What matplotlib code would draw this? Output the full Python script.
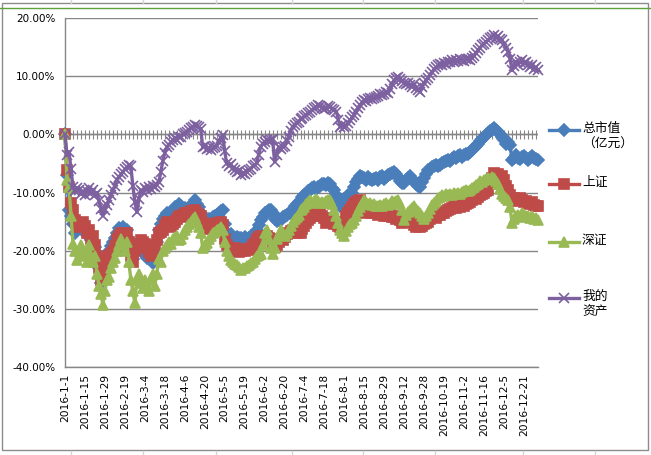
import matplotlib
matplotlib.use("Agg")
import matplotlib.pyplot as plt
from matplotlib.lines import Line2D
from matplotlib.patches import Rectangle
import pandas as pd

# trading days of 2016 (Shanghai / Shenzhen holidays removed, plus days with no record)
holidays = ["2016-02-08", "2016-02-09", "2016-02-10", "2016-02-11", "2016-02-12",
            "2016-04-04", "2016-05-02", "2016-06-09", "2016-06-10",
            "2016-09-15", "2016-09-16",
            "2016-10-03", "2016-10-04", "2016-10-05", "2016-10-06", "2016-10-07"]
skipped = ["2016-03-28", "2016-03-29", "2016-11-22", "2016-11-23", "2016-11-24",
           "2016-12-13", "2016-12-14"]
days = [d for d in pd.bdate_range("2016-01-04", "2016-12-30")
        if d.strftime("%Y-%m-%d") not in holidays + skipped]
dates = ["2016-1-1"] + [f"{d.year}-{d.month}-{d.day}" for d in days]

# values in percent
total_value = [
    0, -7.0, -13.0, -14.0, -15.5, -17.0, -16.0, -15.2, -15.8, -16.5,
    -17.0, -16.8, -17.5, -18.2, -19.0, -19.3, -20.5, -23.0, -25.6, -24.5,
    -22.5, -21.0, -20.0, -19.2, -18.5, -17.8, -17.0, -16.1, -16.5, -16.0,
    -16.8, -16.5, -18.0, -20.5, -21.5, -20.0, -19.5, -18.5, -19.0, -20.0,
    -20.8, -21.2, -20.5, -21.5, -22.1, -20.0, -18.5, -16.5, -15.5, -14.5,
    -14.0, -13.5, -14.2, -13.8, -13.0, -12.5, -12.8, -12.0, -12.4, -13.0,
    -12.6, -13.2, -13.0, -12.4, -11.8, -11.3, -11.9, -12.5, -13.5, -14.5,
    -15.0, -15.0, -14.6, -14.8, -14.2, -14.0, -13.8, -13.5, -13.2, -13.0,
    -15.5, -17.0, -17.5, -17.2, -17.8, -18.0, -17.6, -17.9, -17.8, -18.1,
    -17.7, -18.0, -17.8, -17.5, -17.9, -17.2, -16.5, -15.6, -14.7, -14.2,
    -13.6, -13.3, -13.0, -13.0, -13.6, -14.5, -14.9, -14.7, -14.7, -14.2,
    -14.0, -13.8, -13.6, -13.6, -13.0, -12.4, -12.0, -11.6, -11.3, -10.8,
    -10.4, -10.2, -9.8, -9.5, -9.3, -9.1, -9.4, -9.0, -8.8, -8.6,
    -8.5, -8.7, -8.4, -8.6, -9.2, -9.6, -10.5, -11.5, -12.4, -11.8,
    -11.2, -11.0, -10.4, -10.7, -10.0, -9.0, -8.2, -7.6, -7.2, -7.4,
    -7.5, -7.8, -7.3, -7.6, -7.9, -7.7, -7.5, -7.8, -7.4, -7.2,
    -7.6, -7.3, -7.0, -6.8, -6.7, -6.5, -6.9, -7.4, -8.0, -8.4,
    -8.4, -7.8, -7.5, -7.2, -7.6, -8.0, -8.5, -8.8, -9.0, -8.2,
    -7.5, -6.8, -6.2, -5.9, -5.6, -5.4, -5.2, -5.5, -5.3, -5.0,
    -4.8, -4.6, -4.4, -4.6, -4.2, -3.9, -4.1, -3.8, -3.6, -3.9,
    -3.5, -3.4, -3.3, -3.0, -2.7, -2.3, -2.0, -1.6, -1.2, -0.8,
    -0.5, -0.2, 0.2, 0.5, 0.8, 1.1, 0.8, 0.4, 0.0, -0.4,
    -0.9, -1.6, -1.4, -1.8, -4.4, -4.0, -3.6, -4.1, -4.3, -3.9,
    -3.7, -4.0, -4.4, -4.1, -3.8, -4.0, -4.3, -4.4,
]
shanghai = [
    0, -6.2, -9.0, -11.8, -13.0, -14.7, -15.5, -16.0, -15.3, -15.0,
    -15.8, -17.0, -16.5, -18.0, -17.4, -19.0, -21.0, -23.0, -25.0, -24.0,
    -22.0, -21.5, -21.0, -20.5, -20.0, -19.2, -18.0, -17.5, -17.0, -17.2,
    -17.5, -17.0, -18.5, -21.0, -22.0, -20.0, -19.5, -19.0, -18.2, -18.5,
    -18.8, -19.5, -20.2, -21.0, -20.5, -19.0, -18.2, -17.0, -16.8, -16.5,
    -15.6, -15.0, -15.3, -16.0, -15.5, -15.0, -14.6, -14.0, -14.2, -13.8,
    -13.5, -13.7, -13.5, -13.2, -13.4, -13.0, -13.5, -13.8, -14.0, -15.2,
    -16.0, -16.3, -16.0, -15.8, -15.6, -15.5, -15.2, -15.4, -15.0, -15.6,
    -18.0, -19.0, -19.5, -19.8, -20.0, -19.6, -19.9, -20.2, -20.0, -19.8,
    -20.0, -19.7, -19.8, -19.5, -19.0, -18.6, -18.0, -17.6, -17.5, -17.9,
    -17.8, -17.5, -17.9, -18.0, -18.8, -19.4, -19.0, -18.5, -18.0, -18.2,
    -17.6, -17.2, -17.0, -16.7, -16.5, -16.8, -17.0, -16.6, -17.0, -16.2,
    -15.8, -15.3, -14.8, -14.3, -14.0, -13.6, -13.8, -14.0, -13.7, -14.0,
    -14.4, -15.3, -15.0, -14.8, -15.0, -15.5, -15.2, -15.8, -16.0, -15.4,
    -15.0, -14.0, -13.6, -13.0, -12.5, -12.0, -11.6, -11.4, -11.3, -12.4,
    -13.2, -13.6, -13.4, -13.0, -13.5, -13.3, -13.6, -13.8, -13.4, -13.7,
    -14.0, -13.8, -14.1, -13.9, -14.2, -14.2, -14.5, -14.0, -14.8, -15.3,
    -15.0, -14.6, -14.8, -14.5, -15.0, -15.6, -16.0, -15.7, -16.0, -15.8,
    -15.4, -15.3, -15.0, -14.6, -14.2, -14.0, -14.3, -13.9, -13.8, -13.6,
    -13.6, -13.2, -13.0, -12.8, -12.6, -12.4, -12.6, -12.3, -12.5, -12.2,
    -12.4, -12.0, -11.8, -11.6, -11.3, -11.0, -11.2, -10.8, -10.5, -10.2,
    -10.0, -9.8, -9.6, -8.6, -7.5, -6.7, -7.0, -6.9, -7.3, -7.2,
    -7.9, -8.8, -9.6, -10.4, -11.3, -11.0, -11.5, -11.2, -11.0, -11.3,
    -11.6, -11.5, -11.8, -12.0, -11.7, -12.1, -12.3, -12.4,
]
shenzhen = [
    0, -7.8, -9.0, -14.0, -18.8, -20.0, -21.6, -20.0, -19.0, -21.0,
    -20.5, -22.0, -19.0, -21.0, -22.0, -21.0, -24.0, -26.0, -27.5, -29.3,
    -27.0, -25.0, -24.5, -23.0, -22.0, -21.2, -20.0, -19.0, -18.0, -19.0,
    -20.0, -18.5, -22.0, -25.0, -27.0, -29.0, -25.0, -24.0, -25.5, -26.5,
    -25.0, -26.0, -27.0, -25.0, -24.0, -26.0, -24.0, -21.5, -22.0, -20.0,
    -19.5, -19.0, -18.5, -18.8, -18.0, -17.6, -17.5, -18.2, -18.0, -17.2,
    -16.5, -16.0, -15.5, -15.0, -14.5, -14.2, -15.0, -16.0, -17.0, -19.5,
    -19.0, -18.6, -18.0, -17.5, -17.0, -16.8, -16.5, -16.2, -16.0, -16.5,
    -18.5, -20.0, -21.0, -21.6, -22.0, -22.3, -22.5, -22.8, -23.4, -23.0,
    -23.0, -22.6, -22.5, -22.2, -22.0, -21.5, -21.0, -20.8, -20.5, -19.0,
    -17.0, -16.5, -18.0, -19.5, -20.5, -19.5, -18.0, -17.2, -16.5, -17.0,
    -17.5, -17.0, -16.5, -15.8, -15.0, -14.6, -14.2, -13.8, -13.0, -12.8,
    -12.5, -12.0, -11.6, -11.3, -11.8, -11.5, -11.2, -11.5, -11.8, -11.6,
    -11.8, -11.5, -11.3, -11.3, -12.0, -13.0, -14.0, -15.3, -16.5, -17.0,
    -17.4, -16.6, -16.0, -15.5, -15.2, -14.7, -14.0, -13.2, -12.5, -12.0,
    -11.3, -11.6, -12.0, -11.8, -12.2, -12.0, -12.4, -12.4, -12.1, -12.3,
    -12.0, -11.8, -12.2, -11.9, -11.5, -11.6, -11.4, -11.3, -12.0, -13.0,
    -14.7, -13.8, -13.4, -13.0, -12.6, -12.4, -12.8, -13.2, -13.6, -14.0,
    -14.5, -14.0, -13.6, -12.8, -12.2, -11.8, -11.4, -11.0, -10.8, -10.5,
    -10.6, -10.3, -10.4, -10.2, -10.4, -10.1, -10.3, -10.0, -10.2, -9.9,
    -9.8, -9.6, -9.8, -9.5, -9.3, -9.0, -8.7, -8.5, -8.0, -8.2,
    -7.8, -7.6, -7.5, -7.7, -7.4, -7.5, -8.0, -8.5, -9.4, -10.2,
    -10.6, -11.0, -11.3, -12.5, -15.3, -14.5, -14.0, -13.8, -14.2, -13.6,
    -13.8, -14.1, -14.0, -14.3, -14.0, -14.5, -14.4, -14.7,
]
my_assets = [
    0, -3.6, -3.0, -6.0, -9.0, -9.8, -9.2, -9.5, -10.3, -9.8,
    -10.5, -9.7, -9.3, -10.1, -9.6, -10.4, -10.0, -11.4, -12.8, -14.0,
    -13.0, -12.2, -11.3, -10.4, -9.6, -8.8, -7.9, -7.4, -6.9, -6.5,
    -6.0, -5.7, -5.3, -5.5, -8.9, -11.6, -13.4, -11.2, -9.6, -9.9,
    -9.2, -9.5, -9.0, -9.4, -8.8, -9.1, -8.7, -8.2, -6.5, -4.6,
    -3.2, -2.2, -1.8, -1.4, -1.0, -0.7, -0.9, -0.5, -0.4, 0.0,
    0.2, 0.4, 0.8, 1.1, 1.3, 1.6, 1.4, 1.2, 1.0, -2.2,
    -2.0, -2.5, -2.3, -2.7, -2.4, -2.2, -2.0, -1.4, -0.6, -0.1,
    -2.8, -5.0, -5.4, -5.1, -5.8, -6.2, -6.5, -6.3, -7.0, -6.7,
    -6.9, -6.4, -6.2, -5.9, -5.5, -5.3, -5.0, -3.5, -2.2, -1.6,
    -1.3, -1.0, -1.2, -0.9, -0.8, -4.7, -3.6, -2.2, -2.5, -2.1,
    -2.0, -1.2, -0.4, 0.5, 1.3, 1.6, 2.0, 2.2, 2.6, 2.8,
    3.1, 3.3, 3.6, 3.9, 4.2, 4.5, 4.7, 5.0, 4.8, 4.6,
    4.4, 4.5, 4.8, 4.7, 4.4, 4.2, 3.9, 2.5, 1.3, 1.6,
    1.2, 1.5, 1.9, 2.4, 2.9, 3.3, 3.9, 4.5, 5.0, 5.5,
    5.9, 5.7, 6.0, 6.3, 6.0, 6.2, 6.5, 6.6, 6.9, 6.8,
    7.0, 7.3, 7.1, 7.8, 8.6, 9.3, 9.6, 9.9, 9.5, 9.1,
    8.8, 8.6, 8.9, 8.5, 8.2, 8.6, 8.0, 7.6, 7.3, 8.2,
    8.9, 9.3, 9.7, 10.2, 10.7, 11.2, 11.5, 11.9, 12.1, 12.0,
    12.3, 12.1, 12.5, 12.4, 12.7, 12.5, 12.8, 12.6, 12.9, 12.8,
    12.6, 12.9, 13.0, 12.8, 13.1, 13.5, 14.0, 14.5, 14.9, 15.3,
    15.6, 15.9, 16.2, 16.5, 16.8, 17.1, 16.6, 16.9, 16.4, 16.2,
    15.5, 14.8, 14.2, 13.0, 11.0, 11.8, 12.5, 12.0, 12.4, 12.8,
    12.2, 12.5, 12.0, 11.6, 11.9, 11.3, 11.5, 11.0,
]

series_names = ["总市值\n（亿元）", "上证", "深证", "我的\n资产"]
colors = ["#4A7EBB", "#BE4B48", "#98B954", "#7D60A0"]
markers = ["D", "s", "^", "x"]
msizes = [6.5, 6.5, 7.5, 7]

plt.rcParams["font.family"] = ["DejaVu Sans", "Noto Sans CJK SC"]

fig = plt.figure(figsize=(6.51, 4.55), dpi=100)
ax = fig.add_axes([65 / 651, 1 - 367 / 455, 473 / 651, 349 / 455])

x = list(range(len(dates)))
all_series = [total_value, shanghai, shenzhen, my_assets]
for vals, c, m, ms in zip(all_series, colors, markers, msizes):
    ax.plot(x, vals, color=c, lw=2.4, marker=m, ms=ms, mew=1.2,
            mec=c, mfc=c, clip_on=False, zorder=3)

# horizontal category axis crossing at 0 with tick marks
ax.axhline(0, color="#868686", lw=1, zorder=2)
ax.vlines(x[::2], -0.75, 0.75, color="#868686", lw=0.8, zorder=2)

ax.set_xlim(0, len(dates) - 1)
ax.set_ylim(-40, 20)
ax.set_yticks([-40, -30, -20, -10, 0, 10, 20])
ax.set_yticklabels([f"{v:.2f}%" for v in [-40, -30, -20, -10, 0, 10, 20]], fontsize=7.5)
ax.set_xticks(x[::10])
ax.set_xticklabels(dates[::10], rotation=90, fontsize=7.7, va="top", ha="center")
ax.tick_params(axis="x", length=0, pad=5)
ax.tick_params(axis="y", length=0, pad=7)
ax.grid(axis="y", color="#868686", lw=1)
ax.set_axisbelow(True)
for s in ["top", "right"]:
    ax.spines[s].set_visible(False)
for s in ["left", "bottom"]:
    ax.spines[s].set_color("#868686")
    ax.spines[s].set_linewidth(1)

# legend on the right, like Excel
leg_y = [130, 184, 242, 298]
for name, c, m, ms, yy in zip(series_names, colors, markers, msizes, leg_y):
    fy = 1 - yy / 455
    fig.add_artist(Line2D([549 / 651, 579 / 651], [fy, fy], color=c, lw=2.4,
                          transform=fig.transFigure))
    fig.add_artist(Line2D([564 / 651], [fy], color=c, marker=m, ms=ms, mew=1.2,
                          transform=fig.transFigure))
    fig.text(582 / 651, fy + 8 / 455, name, fontsize=9.2, va="top", ha="left",
             family=["Noto Sans CJK SC", "DejaVu Sans"], linespacing=1.25)

# chart frame and sheet background
fig.add_artist(Rectangle((2 / 651, 1 - 450 / 455), 646 / 651, 447 / 455,
                         fill=False, ec="#8C8C8C", lw=1, transform=fig.transFigure))
fig.add_artist(Line2D([0, 1], [1 - 8 / 455, 1 - 8 / 455], color="#5EA33A", lw=1,
                      transform=fig.transFigure))
for cx in [71, 143, 216, 292, 363, 435, 523, 595]:
    fig.add_artist(Line2D([cx / 651, cx / 651], [1 - 3 / 455, 1], color="#D4D4D4",
                          lw=1, transform=fig.transFigure))
    fig.add_artist(Line2D([cx / 651, cx / 651], [0, 1 - 451 / 455], color="#D4D4D4",
                          lw=1, transform=fig.transFigure))

fig.savefig("out.png", dpi=100)
